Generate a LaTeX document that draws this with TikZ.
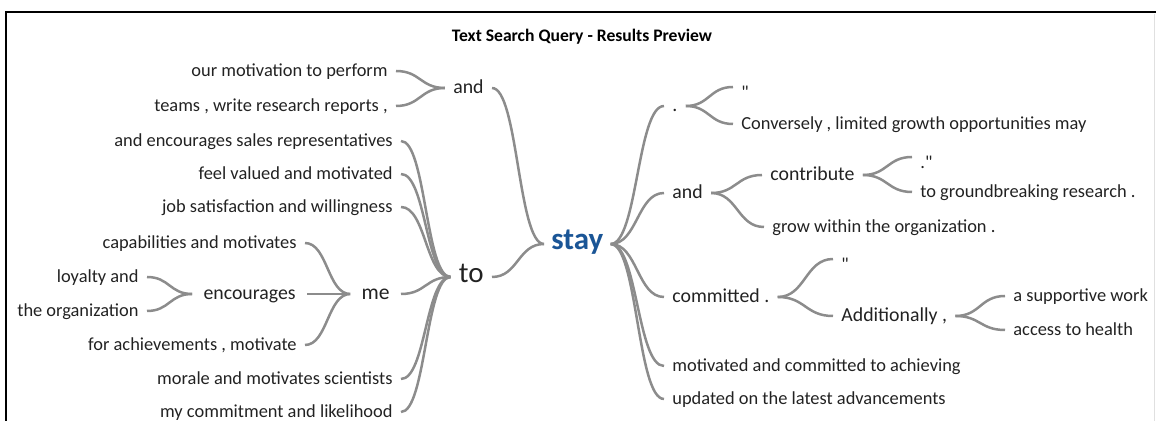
\documentclass[tikz,border=0pt]{standalone}
\usepackage{fontspec}
\setmainfont{Carlito}[Ligatures=TeXOff]
\usetikzlibrary{calc}
\definecolor{twig}{RGB}{140,140,140}
\definecolor{ink}{RGB}{34,34,34}
\definecolor{rootblue}{RGB}{26,85,150}
\tikzset{
  word/.style={inner xsep=4pt, inner ysep=0pt, text height=0.8em, text depth=0.2em, text=ink, font=\fontsize{9.2}{10}\selectfont},
  midword/.style={word, font=\fontsize{9.9}{11}\selectfont},
  quoteword/.style={word, text height=1.3em, text depth=0.1em},
  link/.style={draw=twig, line width=1.25pt, to path={let \p1=(\tikztostart), \p2=(\tikztotarget) in
      .. controls ({(\x1+\x2)/2},\y1) and ({(\x1+\x2)/2},\y2) .. (\tikztotarget)}},
}
\begin{document}
\begin{tikzpicture}[x=0.5pt, y=-0.5pt]
	\useasboundingbox (0,0) rectangle (1156,421);
	\clip (0,0) rectangle (1156,421);
	\draw [line width=1pt] (6,460) -- (6,12) -- (1200,12);
	\draw [black!12] (1154,14) -- (1154,460);
	\node [font=\bfseries\fontsize{8.8}{10}\selectfont] (title) at (582,37) {Text Search Query - Results Preview};
	% root word
	\node [word, anchor=west, inner xsep=3.5pt, text=rootblue, font=\bfseries\fontsize{15.5}{17}\selectfont] (stay) at (544,244) {stay};
	% words before
	\node [midword, anchor=east] (and1) at (492,88) {and};
	\node [word, anchor=east, font=\fontsize{14.5}{16}\selectfont] (to) at (492,277) {to};
	\node [word, anchor=east] (perf) at (396,71) {our motivation to perform};
	\node [word, anchor=east] (teams) at (396,106) {teams , write research reports ,};
	\node [word, anchor=east] (sales) at (401,141) {and encourages sales representatives};
	\node [word, anchor=east] (valued) at (401,174) {feel valued and motivated};
	\node [word, anchor=east] (satis) at (401,207) {job satisfaction and willingness};
	\node [word, anchor=east, inner xsep=5.5pt, font=\fontsize{10.8}{12}\selectfont] (me) at (401,294) {me};
	\node [word, anchor=east] (morale) at (401,379) {morale and motivates scientists};
	\node [word, anchor=east] (commit) at (401,412) {my commitment and likelihood};
	\node [word, anchor=east] (capab) at (305,243) {capabilities and motivates};
	\node [midword, anchor=east, inner xsep=5.5pt] (enc) at (307,294) {encourages};
	\node [word, anchor=east] (achiev) at (305,345) {for achievements , motivate};
	\node [word, anchor=east] (loyal) at (147,277) {loyalty and};
	\node [word, anchor=east] (organ) at (147,311) {the organization};
	% words after
	\node [midword, anchor=west] (dot) at (664,106) {.};
	\node [midword, anchor=west] (and2) at (664,193) {and};
	\node [midword, anchor=west] (committed) at (664,297) {committed .};
	\node [word, anchor=west] (motiv) at (664,366) {motivated and committed to achieving};
	\node [word, anchor=west] (upd) at (664,399) {updated on the latest advancements};
	\node [quoteword, anchor=west] (q1) at (733,87) {"};
	\node [word, anchor=west] (conv) at (733,124) {Conversely , limited growth opportunities may};
	\node [midword, anchor=west] (contrib) at (762,175) {contribute};
	\node [word, anchor=west] (grow) at (764,227) {grow within the organization .};
	\node [quoteword, anchor=west] (q2) at (912,157) {."};
	\node [word, anchor=west] (ground) at (912,192) {to groundbreaking research .};
	\node [quoteword, anchor=west] (q3) at (833,259) {"};
	\node [midword, anchor=west] (addit) at (833,316) {Additionally ,};
	\node [word, anchor=west] (supp) at (1005,296) {a supportive work};
	\node [word, anchor=west] (health) at (1005,330) {access to health};
	% connectors
	\foreach \c in {and1,to} \draw [link] (stay.west) to (\c.east);
	\foreach \c in {perf,teams} \draw [link] (and1.west) to (\c.east);
	\foreach \c in {sales,valued,satis,me,morale,commit} \draw [link] (to.west) to (\c.east);
	\foreach \c in {capab,enc,achiev} \draw [link] (me.west) to (\c.east);
	\foreach \c in {loyal,organ} \draw [link] (enc.west) to (\c.east);
	\foreach \c in {dot,and2,committed,motiv,upd} \draw [link] (stay.east) to (\c.west);
	\foreach \c in {q1,conv} \draw [link] (dot.east) to (\c.west);
	\foreach \c in {contrib,grow} \draw [link] (and2.east) to (\c.west);
	\foreach \c in {q2,ground} \draw [link] (contrib.east) to (\c.west);
	\foreach \c in {q3,addit} \draw [link] (committed.east) to (\c.west);
	\foreach \c in {supp,health} \draw [link] (addit.east) to (\c.west);
\end{tikzpicture}
\end{document}
